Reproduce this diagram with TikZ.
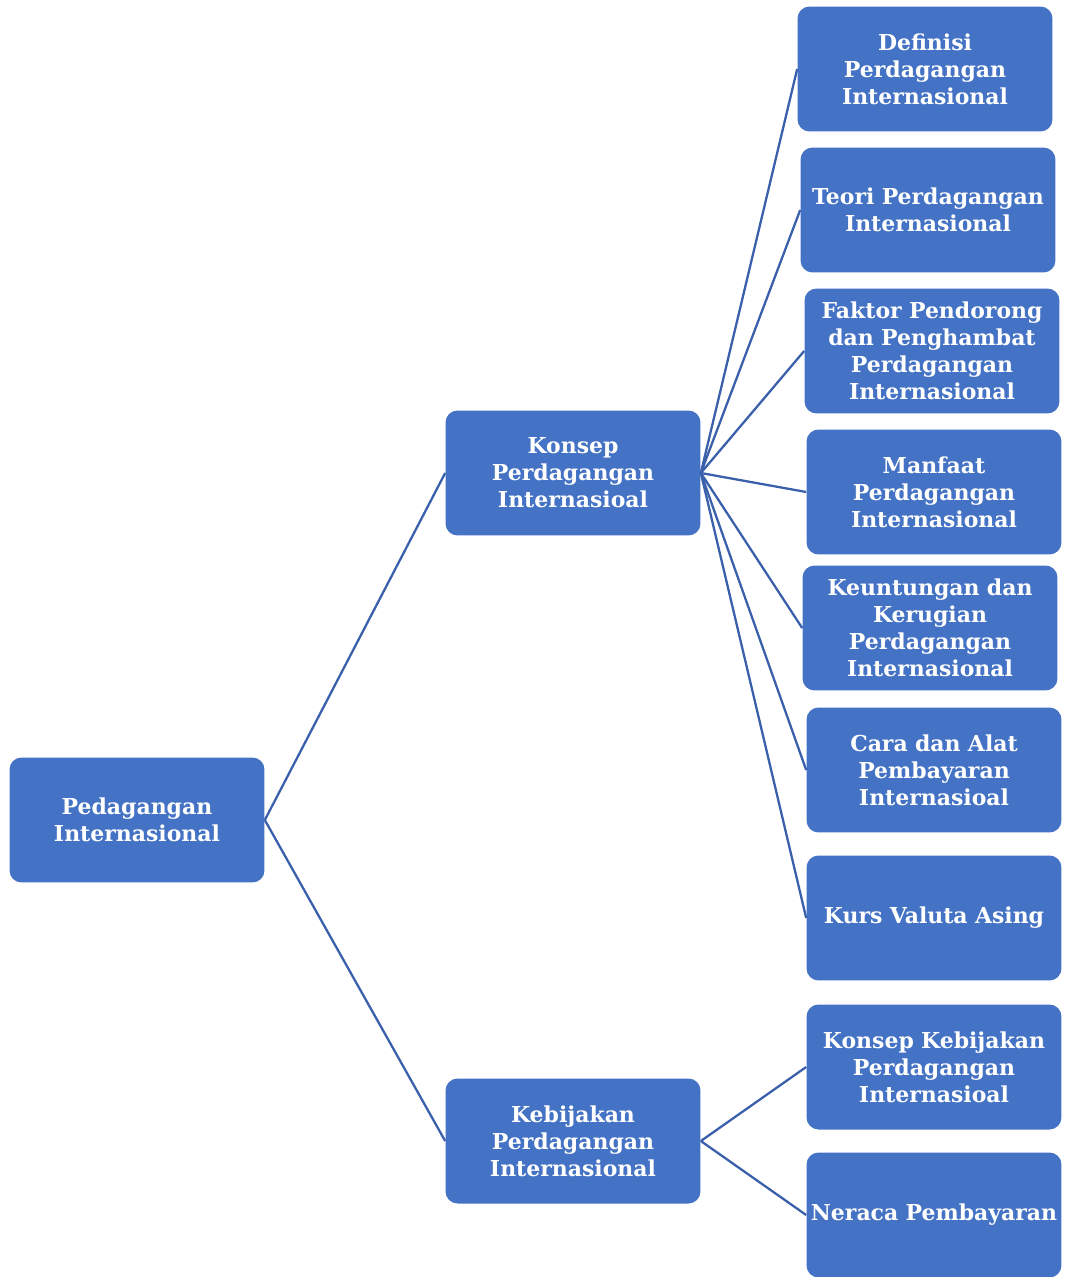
\documentclass[tikz,border=0pt]{standalone}
\usepackage{fontspec}
\setmainfont{DejaVu Serif}
\usetikzlibrary{positioning}
\definecolor{boxblue}{HTML}{4472C4}
\definecolor{lineblue}{HTML}{3A5FAB}

\begin{document}
\begin{tikzpicture}[x=0.02cm, y=-0.02cm,
    topik/.style={fill=boxblue, rounded corners=0.24cm, minimum width=5.1cm, minimum height=2.5cm,
        text width=5.06cm, align=center, inner sep=0.5pt, text=white,
        font=\fontsize{12.5}{15.4}\selectfont\bfseries},
    cabang/.style={draw=lineblue, line width=1.3pt}]
    \useasboundingbox (0, 0) rectangle (1065, 1277);

    % akar dan dua cabang utama
    \node[topik] (akar) at (137, 820) {Pedagangan\\Internasional};
    \node[topik] (konsep) at (573, 473) {Konsep\\Perdagangan\\Internasioal};
    \node[topik] (kebijakan) at (573, 1141) {Kebijakan\\Perdagangan\\Internasional};

    % sub topik konsep
    \node[topik] (definisi) at (925, 69) {Definisi\\Perdagangan\\Internasional};
    \node[topik] (teori) at (928, 210) {Teori Perdagangan\\Internasional};
    \node[topik] (faktor) at (932, 351) {Faktor Pendorong\\dan Penghambat\\Perdagangan\\Internasional};
    \node[topik] (manfaat) at (934, 492) {Manfaat\\Perdagangan\\Internasional};
    \node[topik] (untung) at (930, 628) {Keuntungan dan\\Kerugian\\Perdagangan\\Internasional};
    \node[topik] (cara) at (934, 770) {Cara dan Alat\\Pembayaran\\Internasioal};
    \node[topik] (kurs) at (934, 918) {Kurs Valuta Asing};

    % sub topik kebijakan
    \node[topik] (konsepkeb) at (934, 1067) {Konsep Kebijakan\\Perdagangan\\Internasioal};
    \node[topik] (neraca) at (934, 1215) {Neraca Pembayaran};

    \draw[cabang] (akar.east) -- (konsep.west);
    \draw[cabang] (akar.east) -- (kebijakan.west);

    \draw[cabang] (konsep.east) -- (definisi.west);
    \draw[cabang] (konsep.east) -- (teori.west);
    \draw[cabang] (konsep.east) -- (faktor.west);
    \draw[cabang] (konsep.east) -- (manfaat.west);
    \draw[cabang] (konsep.east) -- (untung.west);
    \draw[cabang] (konsep.east) -- (cara.west);
    \draw[cabang] (konsep.east) -- (kurs.west);

    \draw[cabang] (kebijakan.east) -- (konsepkeb.west);
    \draw[cabang] (kebijakan.east) -- (neraca.west);
\end{tikzpicture}
\end{document}
